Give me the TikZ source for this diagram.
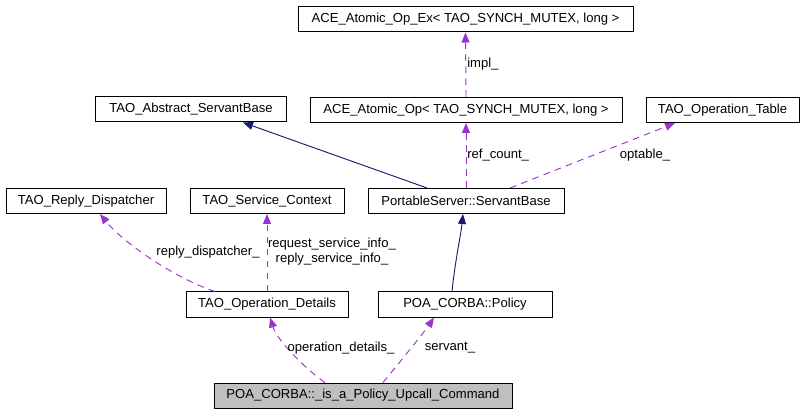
\documentclass[tikz,border=0pt]{standalone}
\usepackage{fontspec}
\setmainfont{Liberation Sans}
\usetikzlibrary{arrows.meta}
\definecolor{edgepurple}{HTML}{9A32CD}
\definecolor{edgenavy}{HTML}{191970}
\definecolor{curgray}{HTML}{BFBFBF}

\begin{document}
\begin{tikzpicture}
[x=.75pt,y=-.75pt,font=\fontsize{9.8}{11.25}\selectfont]
\tikzset{cls/.style={draw,line width=.75pt,inner sep=0pt,minimum height=18.75pt}}
\tikzset{cur/.style={cls,fill=curgray}}
\tikzset{use/.style={draw=edgepurple,line width=.7pt,dash pattern=on 5pt off 4pt,-{Triangle[length=7.5pt,width=6pt]}}}
\tikzset{inh/.style={draw=edgenavy,line width=.7pt,-{Triangle[length=7.5pt,width=6pt]}}}
\tikzset{lbl/.style={inner sep=0pt,align=center}}
\useasboundingbox (0,0) rectangle (803,413);

\node [cls,minimum width=251.25pt] (opex) at (465.5,19.5) {ACE\_Atomic\_Op\_Ex< TAO\_SYNCH\_MUTEX, long >};
\node [cls,minimum width=143.25pt] (abs) at (191,109.5) {TAO\_Abstract\_ServantBase};
\node [cls,minimum width=234pt] (op) at (466,110) {ACE\_Atomic\_Op< TAO\_SYNCH\_MUTEX, long >};
\node [cls,minimum width=114.75pt] (optab) at (722.5,110) {TAO\_Operation\_Table};
\node [cls,minimum width=120pt] (reply) at (86,201) {TAO\_Reply\_Dispatcher};
\node [cls,minimum width=115.5pt] (svc) at (267,201) {TAO\_Service\_Context};
\node [cls,minimum width=147pt] (sb) at (466,201) {PortableServer::ServantBase};
\node [cls,minimum width=121.5pt] (det) at (267,304.5) {TAO\_Operation\_Details};
\node [cls,minimum width=130.5pt] (pol) at (465,304.5) {POA\_CORBA::Policy};
\node [cur,minimum width=223.5pt] (cmd) at (363,395.5) {POA\_CORBA::\_is\_a\_Policy\_Upcall\_Command};

% inheritance
\draw [inh] ([xshift=-29.25pt]sb.north) -- ([xshift=39pt]abs.south);
\draw [inh] ([xshift=-9.75pt]pol.north) .. controls +(3,-30) and +(-2,20) .. ([xshift=-2.25pt]sb.south);

% usage
\foreach \from/\to in {op/opex,sb/op,det/svc}
	\draw [use] (\from.north) -- (\to.south);
\draw [use] ([xshift=33pt]sb.north) -- ([xshift=-35.6pt]optab.south);
\draw [use] ([xshift=-39pt]det.north) .. controls +(-45,-15) and +(20,25) .. ([xshift=10.5pt]reply.south);
\draw [use] ([xshift=-28.5pt]cmd.north) .. controls +(-15,-10) and +(8,25) .. ([xshift=2.25pt]det.south);
\draw [use] ([xshift=15pt]cmd.north) .. controls +(10,-12) and +(-10,15) .. ([xshift=-23.25pt]pol.south);

\node [lbl,anchor=west] (limpl) at (467,64) {impl\_};
\node [lbl,anchor=west] (lref) at (467,155) {ref\_count\_};
\node [lbl] (lopt) at (645,155) {optable\_};
\node [lbl] (lreply) at (208,252) {reply\_dispatcher\_};
\node [lbl] (lsvc) at (332,252) {request\_service\_info\_\\reply\_service\_info\_};
\node [lbl] (ldet) at (341,348) {operation\_details\_};
\node [lbl] (lserv) at (450,348) {servant\_};
\end{tikzpicture}
\end{document}
